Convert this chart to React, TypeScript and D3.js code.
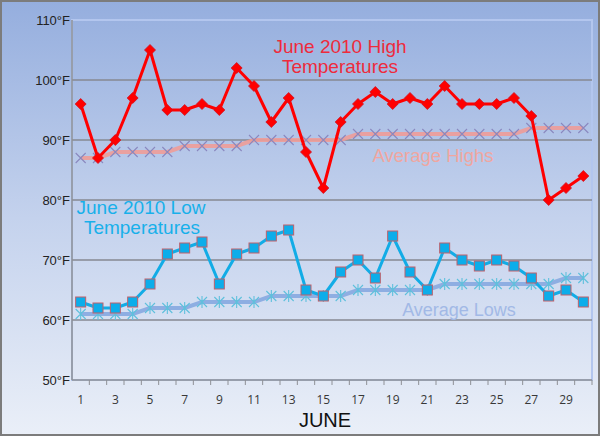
import React from 'react';
import * as d3 from 'd3';

// June 2010 daily temperatures (°F)
const days = [1, 2, 3, 4, 5, 6, 7, 8, 9, 10, 11, 12, 13, 14, 15, 16, 17, 18, 19, 20, 21, 22, 23, 24, 25, 26, 27, 28, 29, 30];
const highs = [96, 87, 90, 97, 105, 95, 95, 96, 95, 102, 99, 93, 97, 88, 82, 93, 96, 98, 96, 97, 96, 99, 96, 96, 96, 97, 94, 80, 82, 84];
const avgHighs = [87, 87, 88, 88, 88, 88, 89, 89, 89, 89, 90, 90, 90, 90, 90, 90, 91, 91, 91, 91, 91, 91, 91, 91, 91, 91, 92, 92, 92, 92];
const lows = [63, 62, 62, 63, 66, 71, 72, 73, 66, 71, 72, 74, 75, 65, 64, 68, 70, 67, 74, 68, 65, 72, 70, 69, 70, 69, 67, 64, 65, 63];
const avgLows = [61, 61, 61, 61, 62, 62, 62, 63, 63, 63, 63, 64, 64, 64, 64, 64, 65, 65, 65, 65, 65, 66, 66, 66, 66, 66, 66, 66, 67, 67];
const yTicks = [50, 60, 70, 80, 90, 100, 110];
const xTickLabels = [1, 3, 5, 7, 9, 11, 13, 15, 17, 19, 21, 23, 25, 27, 29];

const W = 600;
const H = 436;
const margin = { top: 20, right: 8, bottom: 56, left: 72 };

export default function App() {
  const x = d3.scaleBand<number>()
    .domain(days)
    .range([margin.left, W - margin.right]);
  const y = d3.scaleLinear()
    .domain([50, 110])
    .range([H - margin.bottom, margin.top]);
  const cx = (d: number) => (x(d) as number) + x.bandwidth() / 2;

  const line = (vals: number[]) =>
    d3.line<number>()
      .x((_, i) => cx(days[i]))
      .y((v) => y(v))(vals) as string;

  const x0 = margin.left;
  const x1 = W - margin.right;
  const yb = y(50);

  return (
    <svg width={W} height={H} style={{ position: 'absolute', left: 0, top: 0 }}
      fontFamily="Arial, 'Liberation Sans', sans-serif">
      <defs>
        <linearGradient id="bg" x1="0" y1="0" x2="0" y2="1">
          <stop offset="0" stopColor="#95aede" />
          <stop offset="0.5" stopColor="#c4d2ed" />
          <stop offset="1" stopColor="#eaeff8" />
        </linearGradient>
      </defs>
      <rect x={1} y={1} width={W - 2} height={H - 2} fill="url(#bg)" stroke="#7c7c7c" strokeWidth={2} />

      {/* plot panel */}
      <rect x={x0} y={y(110)} width={x1 - x0} height={yb - y(110)} fill="none" stroke="#b3c6ee" strokeWidth={2} />

      {/* gridlines */}
      {yTicks.filter((t) => t > 50 && t < 110).map((t) => (
        <line key={t} x1={x0} x2={x1} y1={y(t)} y2={y(t)} stroke="#868992" strokeWidth={1.3} />
      ))}
      <line x1={x0} x2={x0} y1={y(110)} y2={yb} stroke="#8e9096" strokeWidth={1.5} />
      <line x1={x0} x2={x1} y1={yb} y2={yb} stroke="#8e9096" strokeWidth={1.5} />

      {/* x tick marks between days */}
      {days.map((d) => (
        <line key={d} x1={(x(d) as number) + x.bandwidth()} x2={(x(d) as number) + x.bandwidth()}
          y1={yb} y2={yb + 5} stroke="#8e9096" strokeWidth={1} />
      ))}

      {/* y labels */}
      {yTicks.map((t) => (
        <text key={t} x={x0 - 2} y={y(t) + 4.5} textAnchor="end" fontSize={13} fill="#222">{`${t}°F`}</text>
      ))}

      {/* x labels */}
      {xTickLabels.map((d) => (
        <text key={d} x={cx(d)} y={yb + 24} textAnchor="middle" fontSize={12}
          fontFamily="'Open Sans', sans-serif" fill="#383838">{d}</text>
      ))}
      <text x={325} y={427} textAnchor="middle" fontSize={20} fill="#111">JUNE</text>

      {/* average highs */}
      <path d={line(avgHighs)} fill="none" stroke="#ee9c98" strokeWidth={4} strokeOpacity={0.9} />
      {avgHighs.map((v, i) => {
        const px = cx(days[i]);
        const py = y(v);
        return (
          <path key={i} d={`M${px - 5},${py - 5}L${px + 5},${py + 5}M${px - 5},${py + 5}L${px + 5},${py - 5}`}
            stroke="#8a88bf" strokeWidth={1.1} />
        );
      })}

      {/* average lows */}
      <path d={line(avgLows)} fill="none" stroke="#8eaee2" strokeWidth={4} />
      {avgLows.map((v, i) => {
        const px = cx(days[i]);
        const py = y(v);
        return (
          <path key={i} d={`M${px - 5},${py - 5}L${px + 5},${py + 5}M${px - 5},${py + 5}L${px + 5},${py - 5}M${px},${py - 6}L${px},${py + 6}`}
            stroke="#5fc0dc" strokeWidth={1.1} />
        );
      })}

      {/* highs */}
      <path d={line(highs)} fill="none" stroke="#ff0000" strokeWidth={3} strokeLinejoin="round" />
      {highs.map((v, i) => {
        const px = cx(days[i]);
        const py = y(v);
        return (
          <path key={i} d={`M${px},${py - 5.5}L${px + 5.5},${py}L${px},${py + 5.5}L${px - 5.5},${py}Z`}
            fill="#ff0000" stroke="#d01020" strokeWidth={0.8} />
        );
      })}

      {/* lows */}
      <path d={line(lows)} fill="none" stroke="#12ace6" strokeWidth={3} strokeLinejoin="round" />
      {lows.map((v, i) => {
        const px = cx(days[i]);
        const py = y(v);
        return (
          <rect key={i} x={px - 5} y={py - 5} width={10} height={10}
            fill="#0cadea" stroke="#c0606a" strokeWidth={1} />
        );
      })}

      {/* annotations */}
      <text textAnchor="middle" fontSize={19} fill="#ee2b3c">
        <tspan x={340} y={53}>June 2010 High</tspan>
        <tspan x={340} y={73}>Temperatures</tspan>
      </text>
      <text x={433} y={162} textAnchor="middle" fontSize={18.5} fill="#f0a6a0">Average Highs</text>
      <text textAnchor="middle" fontSize={19} fill="#18b0ea">
        <tspan x={141} y={214}>June 2010 Low</tspan>
        <tspan x={142} y={234}>Temperatures</tspan>
      </text>
      <text x={459} y={316} textAnchor="middle" fontSize={18} fill="#a2b9e6">Average Lows</text>
    </svg>
  );
}
